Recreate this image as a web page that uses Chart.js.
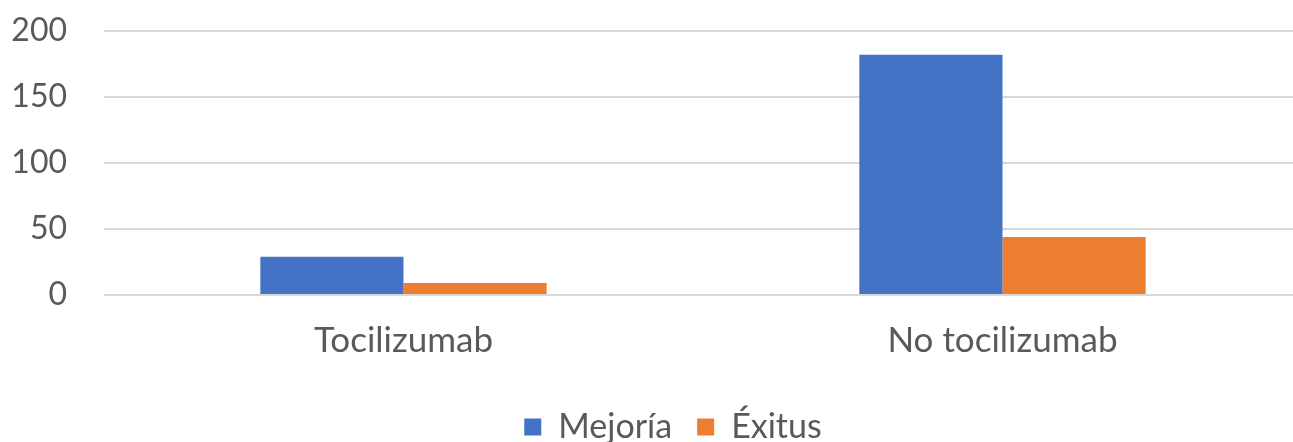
<!DOCTYPE html>
<html lang="es">
<head>
  <meta charset="UTF-8">
  <title>Tocilizumab</title>
  <style>
    body { margin: 0; padding: 0; background: #fff; overflow: hidden; }
    #wrap { width: 1302px; height: 442px; }
  </style>
  <script src="https://cdn.jsdelivr.net/npm/chart.js"></script>
</head>
<body>
  <div id="wrap"><canvas id="chartCanvas" width="1302" height="442"></canvas></div>
  <script>
    // data
    const categories = ['Tocilizumab', 'No tocilizumab'];
    const mejoria = [29, 182];
    const exitus = [9, 44];
    const seriesNames = ['Mejoría', 'Éxitus'];

    const FONT = 'Lato';
    const TXT = '#595959';

    // legend sits a little right of the canvas centre in the original
    const legendNudge = {
      id: 'legendNudge',
      afterLayout(chart) {
        if (chart.legend) { chart.legend.left += 22; chart.legend.right += 22; }
      }
    };

    const ctx = document.getElementById('chartCanvas').getContext('2d');
    new Chart(ctx, {
      type: 'bar',
      data: {
        labels: categories,
        datasets: [
          { label: seriesNames[0], data: mejoria, backgroundColor: '#4472C4' },
          { label: seriesNames[1], data: exitus, backgroundColor: '#ED7D31' }
        ]
      },
      plugins: [legendNudge],
      options: {
        responsive: false,
        animation: false,
        devicePixelRatio: 1,
        layout: { padding: { left: 0, top: 31, right: 0, bottom: -12 } },
        datasets: { bar: { categoryPercentage: 0.478, barPercentage: 1 } },
        plugins: {
          tooltip: { enabled: false },
          legend: {
            position: 'bottom',
            labels: {
              color: TXT,
              font: { family: FONT, size: 34 },
              boxWidth: 17, boxHeight: 17,
              padding: 25
            }
          }
        },
        scales: {
          x: {
            grid: { display: false, drawTicks: false },
            border: { display: false },
            ticks: { color: TXT, font: { family: FONT, size: 35 }, padding: 25 },
            afterFit: s => { s.height = 90; }
          },
          y: {
            min: 0, max: 200,
            grid: { color: '#D9D9D9', lineWidth: 2, drawTicks: false },
            border: { display: false },
            ticks: { stepSize: 50, color: TXT, font: { family: FONT, size: 32 }, padding: 37 },
            afterFit: s => { s.width = 104; s.paddingTop = 0; }
          }
        }
      }
    });
  </script>
</body>
</html>
